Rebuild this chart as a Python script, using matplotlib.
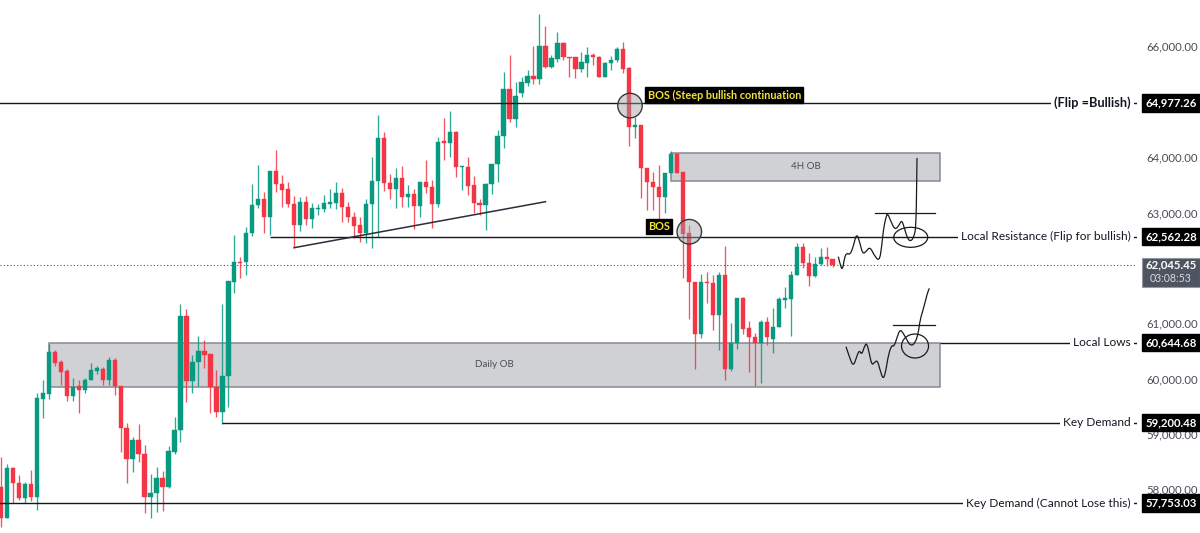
import matplotlib
matplotlib.use("Agg")
import matplotlib.pyplot as plt
import matplotlib.transforms as mtransforms
from matplotlib.patches import Rectangle, Ellipse, PathPatch
from matplotlib.path import Path
import numpy as np

plt.rcParams['font.family'] = ['Lato', 'DejaVu Sans']

# ---------------- candle data (price) ----------------
opens = [58047, 57487, 58390, 58109, 57838, 58096, 57856, 59631, 59721, 60474,
         60294, 60142, 59691, 59866, 59794, 59974, 60142, 60167, 59974, 60335,
         59866, 59102, 58548, 58891, 58632, 57867, 57928, 58199, 58047, 58679,
         59071, 61130, 59962, 60294, 60503, 60438, 59853, 59402, 60046, 61750,
         62111, 62111, 62624, 63135, 63243, 62923, 63749, 63514, 63424, 63153,
         62773, 63194, 62876, 63057, 63057, 63153, 63176, 63346, 63104, 62913,
         62773, 62624, 63153, 63574, 64350, 63537, 63418, 63617, 63285, 63333,
         63117, 63555, 63465, 63147, 64291, 64260, 64458, 63816, 63826, 63496,
         63176, 63135, 63514, 63870, 64381, 65224, 64682, 65152, 65343, 65464,
         65416, 66006, 65632, 65766, 66066, 65813, 65802, 65591, 65705, 65844,
         65813, 65452, 65694, 65753, 65947, 65603, 64549, 64580, 63808, 63555,
         63465, 63285, 63707, 64056, 63736, 62624, 61739, 60800, 61750, 61731,
         61148, 61870, 60173, 60637, 61460, 60908, 60756, 60637, 61027, 60715,
         60937, 61419, 61432, 61870, 62371, 62093, 61852, 62069, 62190, 62154]
highs = [58589, 58452, 58408, 58253, 58137, 58349, 59734, 59974, 60624, 60516,
         60335, 60167, 60005, 59974, 60005, 60276, 60227, 60214, 60384, 60366,
         59866, 59192, 58950, 59180, 58800, 58271, 58398, 58331, 58782, 59301,
         61347, 61251, 60426, 60769, 60697, 60438, 60155, 61347, 61768, 62593,
         62190, 62732, 63514, 63852, 63375, 63749, 64128, 63676, 63555, 63297,
         63285, 63297, 63165, 63153, 63315, 63418, 63555, 63436, 63194, 63014,
         62913, 63238, 63996, 64760, 64458, 63695, 63797, 63839, 63496, 63418,
         63555, 63947, 63586, 64357, 64700, 64838, 64477, 63839, 63996, 63658,
         63250, 63537, 63870, 64489, 65542, 65844, 65361, 65441, 65573, 66006,
         66584, 66367, 65844, 66264, 66084, 65813, 65813, 65903, 65994, 65874,
         65826, 65723, 65826, 65983, 66084, 65632, 64729, 64580, 63808, 63725,
         63857, 63718, 64115, 64079, 63736, 62773, 61750, 61883, 61930, 61870,
         61930, 62394, 60998, 61460, 61479, 61045, 60818, 61058, 61107, 61269,
         61479, 61648, 61948, 62454, 62454, 62262, 62201, 62353, 62371, 62154]
lows = [57325, 57480, 57747, 57807, 57747, 57794, 57626, 59293, 59626, 60227,
        59884, 59595, 59600, 59384, 59745, 59974, 60077, 59884, 59884, 59703,
        58679, 58109, 58307, 58499, 57567, 57476, 57596, 57608, 58029, 58632,
        58860, 59582, 59734, 59866, 60186, 59373, 59301, 59180, 59481, 61551,
        61811, 61870, 62575, 63075, 62634, 62593, 63375, 63093, 63093, 62353,
        62671, 62773, 62725, 62954, 63014, 63075, 63057, 62833, 62833, 62533,
        62472, 62454, 62353, 62562, 63393, 63238, 63075, 63104, 63104, 62696,
        62923, 63357, 62714, 63104, 63947, 64007, 63635, 63406, 63315, 62985,
        62954, 62683, 63333, 63555, 64159, 64639, 64549, 65091, 65284, 65320,
        65320, 65614, 65603, 65723, 65753, 65452, 65423, 65542, 65441, 65663,
        65441, 65441, 65573, 65723, 65513, 64200, 64339, 63256, 63044, 63044,
        62846, 62985, 63707, 63718, 61811, 61070, 60167, 60727, 61359, 60877,
        60516, 59974, 60142, 60529, 60805, 60124, 59866, 59915, 60606, 60456,
        60926, 61269, 60769, 61870, 61991, 61672, 61829, 62051, 62033, 62020]
closes = [57482, 58390, 58109, 57838, 58096, 57856, 59644, 59734, 60474, 60287,
          60124, 59691, 59853, 59794, 59974, 60155, 60191, 59974, 60335, 59866,
          59102, 58548, 58891, 58632, 57867, 57928, 58199, 58047, 58692, 59071,
          61130, 59962, 60305, 60503, 60426, 59842, 59402, 60046, 61768, 62111,
          62087, 62634, 63135, 63243, 62923, 63749, 63508, 63406, 63153, 62773,
          63194, 62876, 63075, 63086, 63165, 63194, 63346, 63104, 62913, 62755,
          62624, 63153, 63574, 64350, 63537, 63418, 63617, 63285, 63333, 63117,
          63555, 63465, 63147, 64278, 64260, 64458, 63816, 63839, 63483, 63165,
          63135, 63514, 63870, 64381, 65224, 64682, 65103, 65361, 65464, 65416,
          66006, 65632, 65784, 66066, 65802, 65784, 65585, 65723, 65844, 65802,
          65452, 65705, 65753, 65947, 65585, 64549, 64580, 63808, 63555, 63465,
          63285, 63718, 64056, 63718, 62611, 61739, 60800, 61750, 61721, 61148,
          61870, 60173, 60637, 61460, 60895, 60756, 60637, 61027, 60756, 60937,
          61432, 61450, 61870, 62371, 62082, 61852, 62069, 62190, 62154, 62045.45]

# ---------------- levels / annotations (bar index, price) ----------------
level_prices = [64977.26, 62562.28, 60644.68, 59200.48, 57753.03]
level_labels = ["(Flip =Bullish)", "Local Resistance (Flip for bullish)",
                "Local Lows", "Key Demand", "Key Demand (Cannot Lose this)"]
level_start_bars = [-1, 45, 157, 37, -1]
current_price = 62045.45
countdown = "03:08:53"
tick_values = [66000, 64000, 63000, 61000, 60000, 59000, 58000]

ob_labels = ["Daily OB", "4H OB"]
ob_start = [8, 112]
ob_end = [157, 157]
ob_top = [60644.68, 64068]
ob_bottom = [59854, 63574]

trend_bars = [49, 91]
trend_prices = [62364, 63194]

bos_labels = ["BOS (Steep bullish continuation", "BOS"]
bos_bars = [105.13, 115.04]
bos_prices = [64930, 62652]

sketch_up_bars = [139.95, 140.35, 140.68, 140.95, 141.35, 141.90, 142.45, 143.02, 143.57, 144.02,
                  144.57, 145.24, 145.91, 146.80, 147.20, 147.47, 147.92, 148.20, 148.75, 149.42,
                  150.14, 150.54, 150.93, 151.48, 152.05, 152.60, 152.94, 153.05, 153.10]
sketch_up_prices = [62201, 62010, 61973, 62172, 62273, 62232, 62382, 62634, 62443, 62250,
                    62291, 62382, 62232, 62111, 62382, 62683, 62923, 62985, 62833, 62683,
                    62773, 62864, 62743, 62533, 62472, 62562, 62743, 63586, 63984]
sketch_lo_bars = [141.23, 141.78, 142.45, 143.02, 143.45, 143.86, 144.29, 144.69, 145.13, 145.53,
                  145.97, 146.47, 146.92, 147.47, 147.92, 148.31, 148.87, 149.26, 149.81, 150.26,
                  150.81, 151.48, 152.05, 152.77, 153.32, 153.60, 154.27, 154.82, 155.16]
sketch_lo_prices = [60576, 60395, 60214, 60395, 60516, 60426, 60576, 60648, 60456, 60245,
                    60287, 60335, 60155, 59974, 60155, 60426, 60606, 60576, 60756, 60890,
                    60818, 60684, 60588, 60637, 60818, 61058, 61298, 61540, 61630]

GREEN = '#089981'
RED = '#f23645'
INK = '#131722'

fig = plt.figure(figsize=(12, 5.33), dpi=100)
ax = fig.add_axes([0, 0, 1137 / 1200, 1])
ax.set_xlim(-0.167, 189.87)
ax.set_ylim(57211, 66837)
for s in ax.spines.values():
    s.set_visible(False)
ax.set_xticks([])
ax.yaxis.tick_right()
ax.set_yticks(tick_values)
ax.set_yticklabels([f"{v:,.2f}" for v in tick_values])
ax.tick_params(axis='y', length=0, pad=6.5, labelsize=8.2, labelcolor='#4a4d57')

# order blocks
for lab, s0, s1, top, bot in zip(ob_labels, ob_start, ob_end, ob_top, ob_bottom):
    ax.add_patch(Rectangle((s0, bot), s1 - s0, top - bot, facecolor='#cfd1d5',
                           edgecolor='#878a91', lw=1.1, zorder=1))
    ax.text((s0 + s1) / 2, (top + bot) / 2, lab, ha='center', va='center',
            fontsize=7, color='#4a4d55', zorder=2)

# candles
o = np.array(opens, float); c = np.array(closes, float)
h = np.array(highs, float); l = np.array(lows, float)
bars = np.arange(len(o))
colors = np.where(c >= o, GREEN, RED)
ax.vlines(bars, l, h, colors=colors, lw=0.95, alpha=0.85, zorder=3)
ax.bar(bars, np.maximum(np.abs(c - o), 22), bottom=np.minimum(o, c), width=0.72,
       color=colors, edgecolor=colors, linewidth=0.3, zorder=4)

# current price dotted line
ax.axhline(current_price, ls=(0, (1, 2)), color='#50535e', lw=0.8, zorder=2)

# level lines and labels
blend = mtransforms.blended_transform_factory(ax.transAxes, ax.transData)
for p, lab, sb in zip(level_prices, level_labels, level_start_bars):
    ax.hlines(p, sb, 189.87, color=INK, lw=1.0, zorder=5)
    bold = lab.startswith("(Flip")
    ax.annotate(lab, xy=(1, p), xycoords=('axes fraction', 'data'), xytext=(-4.5, 0),
                textcoords='offset points', ha='right', va='center',
                fontsize=9.2 if bold else 8.6, fontweight='bold' if bold else 'normal',
                color=INK, zorder=7,
                bbox=dict(boxstyle='square,pad=0.25', fc='white', ec='none'))
    ax.add_patch(Rectangle((1142 / 1137, p - 155), 58 / 1137, 310, transform=blend,
                           facecolor='black', edgecolor='black', clip_on=False, zorder=8))
    ax.text(1171 / 1137, p, f"{p:,.2f}", transform=blend, ha='center', va='center',
            fontsize=8.2, fontweight='bold', color='white', clip_on=False, zorder=9)

# current price box
ax.add_patch(Rectangle((1142 / 1137, current_price - 397), 58 / 1137, 523, transform=blend,
                       facecolor='#4f5461', edgecolor='#9598a1', lw=0.8, clip_on=False, zorder=8))
ax.text(1171 / 1137, current_price, f"{current_price:,.2f}", transform=blend, ha='center',
        va='center', fontsize=8.2, fontweight='bold', color='white', clip_on=False, zorder=9)
ax.text(1171 / 1137, current_price - 244, countdown, transform=blend, ha='center',
        va='center', fontsize=7.6, color='#d8dae0', clip_on=False, zorder=9)

# trend line
ax.plot(trend_bars, trend_prices, color='#2a2e39', lw=1.1, zorder=5)

# BOS circles and labels
for b, p in zip(bos_bars, bos_prices):
    ax.add_patch(Ellipse((b, p), 4.1, 444, facecolor=(0.62, 0.62, 0.64, 0.45),
                         edgecolor='#3a3a3a', lw=1.0, zorder=6))
ax.text(108.06, 65121, bos_labels[0], ha='left', va='center', fontsize=7.8,
        fontweight='bold', color='#f5e23c', zorder=7,
        bbox=dict(boxstyle='square,pad=0.2', fc='black', ec='black'))
ax.text(110.0, 62743, bos_labels[1], ha='center', va='center', fontsize=7.8,
        fontweight='bold', color='#f5e23c', zorder=7,
        bbox=dict(boxstyle='square,pad=0.2', fc='black', ec='black'))


# hand-drawn projections, drawn as smooth quadratic Bezier paths
def smooth_patch(xs, ys, **kw):
    verts = [(xs[0], ys[0])]
    codes = [Path.MOVETO]
    for i in range(1, len(xs) - 1):
        verts += [(xs[i], ys[i]), ((xs[i] + xs[i + 1]) / 2, (ys[i] + ys[i + 1]) / 2)]
        codes += [Path.CURVE3, Path.CURVE3]
    verts.append((xs[-1], ys[-1]))
    codes.append(Path.LINETO)
    return PathPatch(Path(verts, codes), fill=False, **kw)


SK = '#1a1a1a'
ax.add_patch(smooth_patch(sketch_up_bars, sketch_up_prices, edgecolor=SK, lw=0.9, zorder=6))
ax.add_patch(smooth_patch(sketch_lo_bars, sketch_lo_prices, edgecolor=SK, lw=0.9, zorder=6))
ax.plot([146.08, 156.11], [62996, 62996], color=SK, lw=0.9, zorder=6)
ax.plot([149.04, 156.11], [60968, 60968], color=SK, lw=0.9, zorder=6)
ax.add_patch(Ellipse((152.05, 62551), 5.68, 361, fill=False, edgecolor=SK, lw=0.9, zorder=6))
ax.add_patch(Ellipse((152.77, 60588), 4.51, 433, fill=False, edgecolor=SK, lw=0.9, zorder=6))

fig.savefig("out.png", dpi=100, facecolor='white')
